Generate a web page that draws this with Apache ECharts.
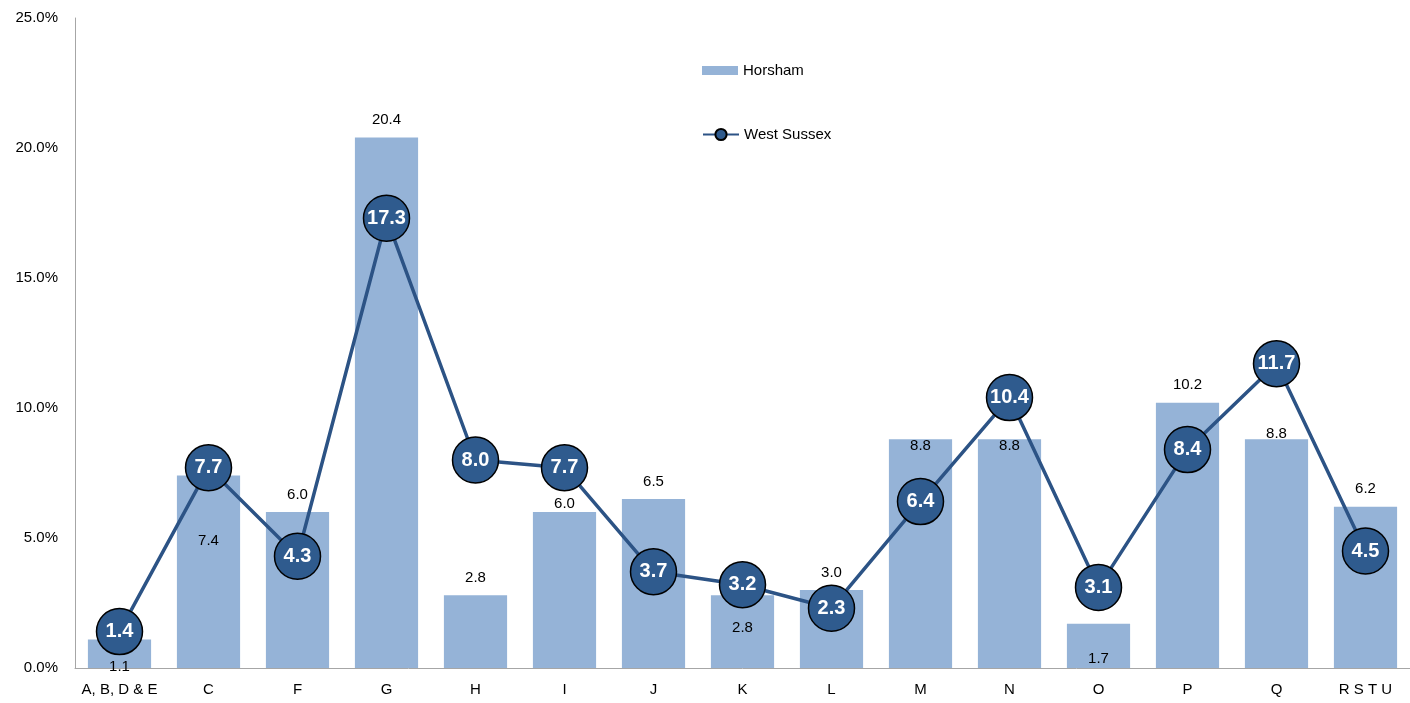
<!DOCTYPE html>
<html>
<head>
<meta charset="utf-8">
<script src="https://cdn.jsdelivr.net/npm/echarts@6/dist/echarts.min.js"></script>
<style>
html,body{margin:0;padding:0;background:#fff;}
#chart{width:1410px;height:703px;}
</style>
</head>
<body>
<div id="chart"></div>
<script>
const categories = ['A, B, D & E','C','F','G','H','I','J','K','L','M','N','O','P','Q','R S T U'];
const horsham = [1.1, 7.4, 6.0, 20.4, 2.8, 6.0, 6.5, 2.8, 3.0, 8.8, 8.8, 1.7, 10.2, 8.8, 6.2];
const westSussex = [1.4, 7.7, 4.3, 17.3, 8.0, 7.7, 3.7, 3.2, 2.3, 6.4, 10.4, 3.1, 8.4, 11.7, 4.5];
const yTicks = [0, 5, 10, 15, 20, 25];

// label vertical shifts (px) for Horsham bar labels, keyed by category index
const labelShift = {0: 40, 1: 78, 5: 4, 7: 45, 9: 19, 10: 19, 11: 48, 13: 7};
const defaultShift = -5;

const FONT = '"Liberation Sans", "DejaVu Sans", sans-serif';

const chart = echarts.init(document.getElementById('chart'));
const option = {
  animation: false,
  textStyle: {fontFamily: FONT},
  grid: {left: 75, right: 0, top: 18, bottom: 35, containLabel: false},
  legend: [
    {
      data: [{name: 'Horsham', icon: 'rect'}],
      orient: 'vertical', left: 697, top: 58,
      itemWidth: 36, itemHeight: 9, itemGap: 8,
      textStyle: {fontFamily: FONT, fontSize: 15, color: '#000'}
    },
    {
      data: ['West Sussex'],
      orient: 'vertical', left: 697, top: 122,
      itemWidth: 36, itemHeight: 14,
      textStyle: {fontFamily: FONT, fontSize: 15, color: '#000'}
    }
  ],
  xAxis: {
    type: 'category',
    data: categories,
    axisLine: {lineStyle: {color: '#A6A6A6', width: 1}},
    axisTick: {show: false},
    axisLabel: {color: '#000', fontSize: 15, fontFamily: FONT, margin: 14, interval: 0}
  },
  yAxis: {
    type: 'value',
    min: 0, max: 25, interval: 5,
    axisLine: {show: true, lineStyle: {color: '#A6A6A6', width: 1}},
    axisTick: {show: false},
    splitLine: {show: false},
    axisLabel: {
      color: '#000', fontSize: 15, fontFamily: FONT, margin: 17,
      formatter: v => yTicks.includes(v) ? v.toFixed(1) + '%' : ''
    }
  },
  series: [
    {
      name: 'Horsham',
      type: 'bar',
      barWidth: '71%',
      itemStyle: {color: '#95B3D7'},
      data: horsham.map((v, i) => ({
        value: v,
        label: {offset: [0, (i in labelShift) ? labelShift[i] : defaultShift]}
      })),
      label: {
        show: true, position: 'top', distance: 5,
        color: '#000', fontSize: 15, fontFamily: FONT,
        formatter: p => p.value.toFixed(1)
      },
      z: 2
    },
    {
      name: 'West Sussex',
      type: 'line',
      data: westSussex,
      symbol: 'circle',
      symbolSize: 46,
      lineStyle: {color: '#2C5385', width: 3.5},
      itemStyle: {color: '#2F5B8E', borderColor: '#000', borderWidth: 1.5},
      label: {
        show: true, position: 'inside',
        color: '#fff', fontSize: 20, fontWeight: 'bold', fontFamily: FONT,
        formatter: p => p.value.toFixed(1)
      },
      z: 5
    }
  ]
};
chart.setOption(option);
</script>
</body>
</html>
